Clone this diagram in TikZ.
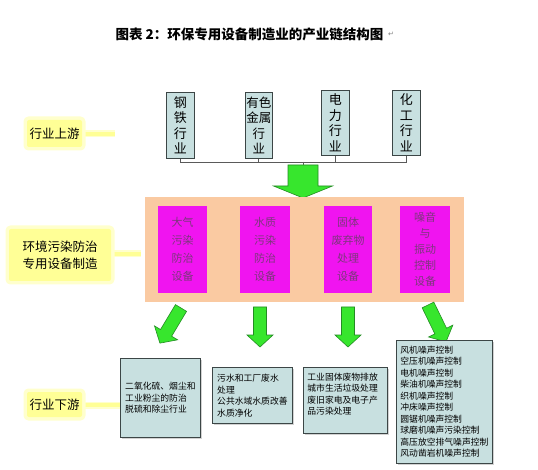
\documentclass[tikz,border=0pt]{standalone}
\usepackage{fontspec}
\setmainfont{Liberation Sans}
\newfontfamily\cjk{Noto Sans CJK SC}
\newfontfamily\symf{DejaVu Sans}
\usetikzlibrary{shadows}
\definecolor{boxblue}{RGB}{200,224,224}
\definecolor{boxline}{RGB}{60,70,70}
\definecolor{mag}{RGB}{240,20,240}
\definecolor{magtext}{RGB}{125,55,125}
\definecolor{band}{RGB}{250,202,162}
\definecolor{arrowfill}{RGB}{55,230,45}
\definecolor{arrowedge}{RGB}{35,140,35}
\definecolor{glowy}{RGB}{255,255,150}
\definecolor{glowy2}{RGB}{255,255,205}
\definecolor{busline}{RGB}{90,90,90}
\newcommand\fatarrow[7]{%
  \begin{scope}[shift={(#1,#2)},rotate=#3]
    \draw[bigarrow] (0,-#5/2) -- (#4-#7,-#5/2) -- (#4-#7,-#6/2) -- (#4,0)
      -- (#4-#7,#6/2) -- (#4-#7,#5/2) -- (0,#5/2) -- cycle;
  \end{scope}}
\begin{document}
\begin{tikzpicture}[x=1pt,y=-1pt,
  bigarrow/.style={fill=arrowfill, draw=arrowedge, line width=0.6pt, line join=miter},
  upbox/.style={draw=boxline, fill=boxblue, line width=0.8pt, minimum width=28, minimum height=66,
    inner sep=0pt, align=center, anchor=north west, font=\cjk\fontsize{13}{15.5}\selectfont},
  magbox/.style={fill=mag, minimum width=49, minimum height=87, inner sep=0pt, align=center,
    anchor=north west, text=magtext, font=\cjk\fontsize{11}{18}\selectfont},
  downbox/.style={draw=boxline, fill=boxblue, line width=0.8pt, inner xsep=4pt, inner ysep=0pt,
    align=left, anchor=north west, font=\cjk\fontsize{8.8}{11.5}\selectfont,
    drop shadow={shadow xshift=1.5pt, shadow yshift=-1.5pt, opacity=0.35}},
  label/.style={fill=glowy, rounded corners=2pt, inner sep=0pt, align=center,
    preaction={draw=glowy2, line width=7pt, rounded corners=4pt},
    font=\cjk\fontsize{12.5}{17.5}\selectfont},
  glowline/.style={draw=glowy, line width=3.5pt, preaction={draw=glowy2, line width=7pt}},
  bus/.style={draw=busline, line width=0.9pt}
]
\useasboundingbox (0,0) rectangle (538,470);
\fill[white] (0,0) rectangle (538,470);

% title
\node[font=\cjk\bfseries\fontsize{13.5}{16}\selectfont, anchor=west] (title) at (112,34)
  {图表 2：环保专用设备制造业的产业链结构图};
\node[font=\symf\fontsize{7}{8}\selectfont, text=gray, anchor=west, inner sep=0pt] (pm)
  at ([xshift=1pt]title.east) {↵};

% side labels
\coordinate (upend) at (115,134);
\coordinate (midend) at (141,254);
\coordinate (downend) at (121,405);
\draw[glowline] (55,134) -- (upend);
\draw[glowline] (60,254) -- (midend);
\draw[glowline] (55,405) -- (downend);
\node[label, minimum width=55, minimum height=27] (lup) at (54.5,133.5) {行业上游};
\node[label, minimum width=102, minimum height=52] (lmid) at (60,255) {环境污染防治\\专用设备制造};
\node[label, minimum width=55, minimum height=25] (ldown) at (54.5,404.5) {行业下游};

% upstream
\node[upbox] (u1) at (166,92) {钢\\铁\\行\\业};
\node[upbox, minimum width=27, font=\cjk\fontsize{12.5}{15.5}\selectfont] (u2) at (245,92) {有色\\金属\\行\\业};
\node[upbox, minimum height=65] (u3) at (321,90) {电\\力\\行\\业};
\node[upbox, minimum height=65] (u4) at (392,90) {化\\工\\行\\业};
\coordinate (bus) at (303,162);
\coordinate (arrtop) at (303,165);
\draw[bus] (u1.south) -- (u1.south |- bus) -- (u4.south |- bus) -- (u4.south);
\draw[bus] (u2.south) -- (u2.south |- bus);
\draw[bus] (u3.south) -- (u3.south |- bus);
\draw[bus] (bus) -- (arrtop);
\fatarrow{303}{165}{-90}{33}{30}{59}{12}

% middle band
\node[fill=band, minimum width=319, minimum height=105, anchor=north west, inner sep=0pt] (band) at (145,197) {};
\node[magbox] (m1) at (158,206) {大气\\污染\\防治\\设备};
\node[magbox, minimum width=50] (m2) at (240,206) {水质\\污染\\防治\\设备};
\node[magbox, minimum width=48] (m3) at (324,206) {固体\\废弃物\\处理\\设备};
\node[magbox, minimum width=50, font=\cjk\fontsize{11}{16}\selectfont] (m4) at (400,206) {噪音\\与\\振动\\控制\\设备};

% downstream arrows
\fatarrow{181}{308}{-121}{41}{13}{27}{12}
\fatarrow{260}{307}{-90}{40}{13}{26}{12}
\fatarrow{348}{307}{-90}{40}{13}{26}{12}
\fatarrow{428}{305}{-64}{41}{13}{27}{12}

% downstream boxes
\node[downbox, minimum width=80, minimum height=79] (d1) at (120,358)
  {二氧化硫、烟尘和\\工业粉尘的防治\\脱硫和除尘行业};
\node[downbox, minimum width=80, minimum height=56] (d2) at (212,367)
  {污水和工厂废水\\处理\\公共水域水质改善\\水质净化};
\node[downbox, text width=76, inner ysep=4pt, text height=9pt, text depth=49pt] (d3) at (303,367)
  {工业固体废物排放\\城市生活垃圾处理\\废旧家电及电子产\\品污染处理};
\node[downbox, text width=88, minimum height=123] (d4) at (396,340)
  {风机噪声控制\\空压机噪声控制\\电机噪声控制\\柴油机噪声控制\\织机噪声控制\\冲床噪声控制\\圆锯机噪声控制\\球磨机噪声污染控制\\高压放空排气噪声控制\\风动凿岩机噪声控制};
\end{tikzpicture}
\end{document}
